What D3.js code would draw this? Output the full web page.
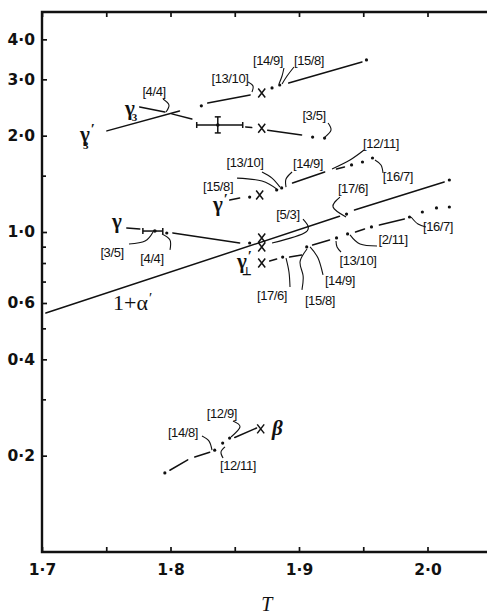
<!DOCTYPE html>
<html>
<head>
<meta charset="utf-8">
<script src="https://cdnjs.cloudflare.com/ajax/libs/d3/7.8.5/d3.min.js"></script>
<style>
body { margin: 0; background: #fff; }
svg { display: block; }
text { fill: #111; }
</style>
</head>
<body>
<svg id="chart" width="487" height="615"></svg>
<script>
// axis ticks
const xTicks = [1.7, 1.8, 1.9, 2.0];
const xMinor = [1.75, 1.85, 1.95];
const yTicks = [4.0, 3.0, 2.0, 1.0, 0.6, 0.4, 0.2];
const yMinor = [1.5, 0.9, 0.8, 0.7, 0.5, 0.3];

// each curve: solid pieces [[T,v],[T,v]] and single points
const gamma3pSegs = [
  [[1.7505, 2.07], [1.807, 2.39]],
  [[1.829, 2.53], [1.862, 2.68]],
  [[1.892, 2.92], [1.949, 3.40]]
];
const gamma3pDots = [[1.824, 2.48], [1.879, 2.82], [1.885, 2.88], [1.9525, 3.45]];

const gamma3Segs = [
  [[1.776, 2.46], [1.7956, 2.37]],
  [[1.801, 2.34], [1.8166, 2.255]],
  [[1.8585, 2.13], [1.8632, 2.12]],
  [[1.8756, 2.08], [1.902, 2.01]]
];
const gamma3Dots = [[1.9106, 1.98], [1.9199, 1.966]];

const gammaPSegs = [
  [[1.8461, 1.259], [1.8538, 1.277]],
  [[1.895, 1.422], [1.920, 1.540]],
  [[1.9292, 1.574], [1.9354, 1.596]]
];
const gammaPDots = [[1.8616, 1.286], [1.8826, 1.353], [1.8865, 1.373], [1.9409, 1.620], [1.9494, 1.655], [1.9572, 1.703]];

const alphaSegs = [
  [[1.703, 0.558], [1.9315, 1.12]],
  [[1.9432, 1.171], [2.013, 1.433]]
];
const alphaDots = [[1.937, 1.138], [2.017, 1.454]];

const gammaSegs = [
  [[1.766, 1.029], [1.7761, 1.022]],
  [[1.8018, 0.993], [1.8538, 0.924]]
];
const gammaDots = [[1.7971, 0.993], [1.8616, 0.924]];

const gammaPerpSegs = [
  [[1.8772, 0.812], [1.8826, 0.823]],
  [[1.8927, 0.835], [1.902, 0.847]],
  [[1.9106, 0.911], [1.9238, 0.944]],
  [[1.944, 1.0], [1.951, 1.022]],
  [[1.9626, 1.052], [1.982, 1.098]]
];
const gammaPerpDots = [[1.8873, 0.835], [1.906, 0.898], [1.9292, 0.958], [1.9378, 0.986], [1.9564, 1.037],
  [1.986, 1.114], [1.996, 1.155], [2.007, 1.189], [2.017, 1.197]];

const betaSegs = [
  [[1.7995, 0.1801], [1.8134, 0.194]],
  [[1.8189, 0.198], [1.8305, 0.205]],
  [[1.85, 0.228], [1.867, 0.244]]
];
const betaDots = [[1.7956, 0.1766], [1.8344, 0.208], [1.8406, 0.219], [1.846, 0.227]];

const crossMarks = [[1.871, 2.72], [1.871, 2.11], [1.8694, 1.305], [1.871, 0.958], [1.871, 0.898], [1.871, 0.800], [1.8702, 0.2425]];

// [T, v, Tlo, Thi, vlo, vhi]
const errorBars = [
  [1.8368, 2.16, 1.8204, 1.8562, 2.04, 2.29],
  [1.7878, 1.007, 1.7785, 1.794, 1.007, 1.007]
];

// run labels [text, T, v]
const runLabels = [
  ["[4/4]", 1.7872, 2.757], ["[13/10]", 1.8463, 3.030], ["[14/9]", 1.8759, 3.447], ["[15/8]", 1.9078, 3.447],
  ["[3/5]", 1.9117, 2.321], ["[12/11]", 1.9638, 1.897], ["[16/7]", 1.977, 1.496],
  ["[13/10]", 1.858, 1.655], ["[14/9]", 1.907, 1.643], ["[15/8]", 1.837, 1.392], ["[17/6]", 1.942, 1.373],
  ["[5/3]", 1.8914, 1.138], ["[2/11]", 1.9732, 0.951], ["[16/7]", 2.0082, 1.044],
  ["[13/10]", 1.9459, 0.818], ["[14/9]", 1.9319, 0.708], ["[15/8]", 1.9163, 0.613], ["[17/6]", 1.879, 0.636],
  ["[3/5]", 1.7545, 0.866], ["[4/4]", 1.7856, 0.829],
  ["[14/8]", 1.8097, 0.237], ["[12/9]", 1.840, 0.272], ["[12/11]", 1.8525, 0.187]
];

const leaders = [
  [[1.7942, 2.604], [1.7988, 2.494], [1.7965, 2.371]],
  [[1.8603, 2.943], [1.8642, 2.859], [1.8634, 2.738]],
  [[1.8883, 3.255], [1.8868, 3.073], [1.8844, 2.901]],
  [[1.8961, 3.279], [1.8907, 3.073], [1.8868, 2.901]],
  [[1.9226, 2.191], [1.9249, 2.083], [1.9202, 1.980]],
  [[1.9506, 1.804], [1.9397, 1.679], [1.9257, 1.574]],
  [[1.9591, 1.679], [1.9638, 1.620], [1.9654, 1.529]],
  [[1.8712, 1.540], [1.879, 1.474], [1.8852, 1.382]],
  [[1.8946, 1.540], [1.8899, 1.464], [1.8899, 1.382]],
  [[1.8518, 1.474], [1.8712, 1.443], [1.8837, 1.353]],
  [[1.9319, 1.286], [1.9265, 1.197], [1.9366, 1.114]],
  [[1.9031, 1.098], [1.9054, 1.0], [1.879, 0.924]],
  [[1.9397, 0.979], [1.9475, 0.917], [1.9607, 0.904]],
  [[1.9872, 1.114], [1.9926, 1.059], [1.9988, 1.037]],
  [[1.9288, 0.937], [1.9296, 0.898], [1.9327, 0.866]],
  [[1.9086, 0.898], [1.9148, 0.829], [1.9187, 0.734]],
  [[1.9062, 0.885], [1.9008, 0.806], [1.9031, 0.734], [1.9023, 0.659]],
  [[1.8899, 0.829], [1.8922, 0.750], [1.893, 0.673]],
  [[1.7677, 0.917], [1.7802, 0.937], [1.7864, 1.0]],
  [[1.7934, 0.986], [1.7996, 0.944], [1.7996, 0.879]],
  [[1.8245, 0.2304], [1.83, 0.222], [1.8323, 0.208]],
  [[1.8486, 0.2566], [1.8541, 0.246], [1.8471, 0.2288]],
  [[1.8424, 0.213], [1.8393, 0.2054], [1.8409, 0.1966]]
];

const svg = d3.select("#chart");
const x = d3.scaleLinear().domain([1.7, 2.05]).range([42, 491.75]);
const y = d3.scaleLog().domain([0.1, 4.87]).range([552, 12]);

const fmt = d => d3.format(".1f")(d).replace(".", "\u00b7");

// axes (ticks point inward)
const gy = svg.append("g").attr("transform", "translate(42,0)")
  .call(d3.axisLeft(y).tickValues(yTicks).tickSizeInner(-5).tickSizeOuter(0).tickPadding(7).tickFormat(fmt));
gy.append("g").call(d3.axisLeft(y).tickValues(yMinor).tickSizeInner(-4).tickSizeOuter(0).tickFormat(""));

const gx = svg.append("g").attr("transform", "translate(0,552)")
  .call(d3.axisBottom(x).tickValues(xTicks).tickSizeInner(-5).tickSizeOuter(0).tickPadding(12).tickFormat(fmt));
gx.append("g").call(d3.axisBottom(x).tickValues(xMinor).tickSizeInner(-5).tickSizeOuter(0).tickFormat(""));

svg.append("g").attr("transform", "translate(0,12)")
  .call(d3.axisTop(x).tickValues(xTicks.concat(xMinor)).tickSizeInner(-5).tickSizeOuter(0).tickFormat(""));

svg.selectAll(".domain").remove();
svg.selectAll(".tick line").attr("stroke", "#111").attr("stroke-width", 1.7);
svg.selectAll(".tick text")
  .attr("font-family", "'DejaVu Sans', sans-serif")
  .attr("font-size", 15.5).attr("font-weight", "bold").attr("fill", "#111");

// frame
svg.append("path")
  .attr("d", "M487,12H42V552H487")
  .attr("fill", "none").attr("stroke", "#111").attr("stroke-width", 2.4);

svg.append("text")
  .attr("x", x(1.875)).attr("y", 611)
  .attr("text-anchor", "middle")
  .attr("font-family", "'Liberation Serif', serif")
  .attr("font-style", "italic").attr("font-size", 20)
  .text("T");

const line = d3.line().x(d => x(d[0])).y(d => y(d[1]));
const curve = d3.line().x(d => x(d[0])).y(d => y(d[1])).curve(d3.curveNatural);

const allSegs = [gamma3pSegs, gamma3Segs, gammaPSegs, alphaSegs, gammaSegs, gammaPerpSegs, betaSegs];
const allDots = [gamma3pDots, gamma3Dots, gammaPDots, alphaDots, gammaDots, gammaPerpDots, betaDots];

const plot = svg.append("g");
allSegs.forEach(segs => {
  plot.selectAll(null).data(segs).join("path")
    .attr("d", line)
    .attr("fill", "none").attr("stroke", "#111").attr("stroke-width", 1.5)
    .attr("stroke-linecap", "round");
});
allDots.forEach(dots => {
  plot.selectAll(null).data(dots).join("circle")
    .attr("cx", d => x(d[0])).attr("cy", d => y(d[1])).attr("r", 1.6)
    .attr("fill", "#111");
});

plot.selectAll(null).data(crossMarks).join("path")
  .attr("transform", d => `translate(${x(d[0])},${y(d[1])})`)
  .attr("d", "M-3.5,-4.5L3.5,4.5M3.5,-4.5L-3.5,4.5")
  .attr("stroke", "#111").attr("stroke-width", 1.5).attr("fill", "none");

// error bars
errorBars.forEach(e => {
  const g = plot.append("g").attr("stroke", "#111").attr("stroke-width", 1.5);
  const cy = y(e[1]), cx = x(e[0]);
  g.append("line").attr("x1", x(e[2])).attr("x2", x(e[3])).attr("y1", cy).attr("y2", cy);
  g.append("line").attr("x1", x(e[2])).attr("x2", x(e[2])).attr("y1", cy - 3).attr("y2", cy + 3);
  g.append("line").attr("x1", x(e[3])).attr("x2", x(e[3])).attr("y1", cy - 3).attr("y2", cy + 3);
  if (e[5] > e[4]) {
    g.append("line").attr("x1", cx).attr("x2", cx).attr("y1", y(e[4])).attr("y2", y(e[5]));
    g.append("line").attr("x1", cx - 3).attr("x2", cx + 3).attr("y1", y(e[4])).attr("y2", y(e[4]));
    g.append("line").attr("x1", cx - 3).attr("x2", cx + 3).attr("y1", y(e[5])).attr("y2", y(e[5]));
  }
  plot.append("circle").attr("cx", cx).attr("cy", cy).attr("r", 1.8).attr("fill", "#111");
});

// leader lines
plot.selectAll(null).data(leaders).join("path")
  .attr("d", curve)
  .attr("fill", "none").attr("stroke", "#111").attr("stroke-width", 1.1);

// run labels
svg.append("g").selectAll("text").data(runLabels).join("text")
  .attr("x", d => x(d[1])).attr("y", d => y(d[2]))
  .attr("dy", "0.36em")
  .attr("text-anchor", "middle")
  .attr("font-family", "'Liberation Sans', sans-serif")
  .attr("font-size", 13)
  .attr("letter-spacing", -0.4)
  .text(d => d[0]);

// greek curve names
function greek(T, v, main, opts) {
  const t = svg.append("text")
    .attr("x", x(T)).attr("y", y(v))
    .attr("font-family", "'Liberation Serif', serif")
    .attr("font-size", opts.size || 21)
    .attr("font-weight", opts.weight || "bold")
    .attr("font-style", opts.italic ? "italic" : "normal");
  t.append("tspan").text(main);
  if (opts.prime) t.append("tspan").attr("font-size", 15).attr("dx", 1).attr("dy", -7).text("\u2032");
  if (opts.sub) t.append("tspan").attr("font-size", 11).attr("dx", opts.subDx).attr("dy", opts.subDy).text(opts.sub);
}
greek(1.7646, 2.321, "\u03b3", { sub: "3", subDx: -3, subDy: 6 });
greek(1.7296, 1.925, "\u03b3", { prime: true, sub: "3", subDx: -12, subDy: 15 });
greek(1.7545, 1.029, "\u03b3", {});
greek(1.8331, 1.163, "\u03b3", { prime: true });
greek(1.8517, 0.772, "\u03b3", { prime: true, sub: "\u22a5", subDx: -10, subDy: 14 });
greek(1.7553, 0.570, "1+\u03b1", { prime: true, weight: "normal", size: 22 });
greek(1.879, 0.2318, "\u03b2", { italic: true });
</script>
</body>
</html>
